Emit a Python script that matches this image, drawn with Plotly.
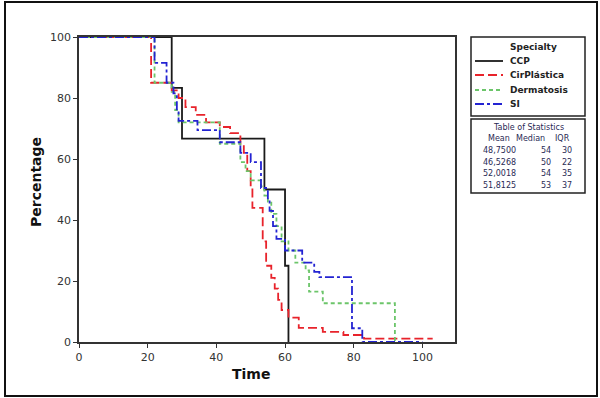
import plotly.graph_objects as go

# ---------------- data ----------------
groups = ["CCP", "CirPlástica", "Dermatosis", "SI"]

ccp_time = [0, 27, 30, 54, 60, 61]
ccp_pct = [100, 83.33, 66.67, 50, 25, 0]

cir_time = [0, 21, 27, 29, 31, 34, 37, 41, 44, 47, 48, 49, 50, 50.5, 53.5, 54.5,
            56, 57, 58, 59, 61, 64, 71, 77, 83, 103]
cir_pct = [100, 85, 82.5, 80, 77, 74.5, 72, 70.5, 68.5, 65, 62, 56, 50, 44, 33, 25,
           21, 17.5, 13.8, 10.5, 8, 4.6, 3.3, 2.3, 1.1, 1.1]

der_time = [0, 22, 27, 28, 29, 41, 47, 48.5, 50, 53, 54, 55, 56, 57.5, 59, 61,
            63, 66, 67, 71, 92]
der_pct = [100, 85, 82, 76, 72, 65, 59, 56, 53, 51, 48, 46, 42, 38, 33, 30,
           26, 23.5, 16.5, 12.7, 0]

si_time = [0, 22, 25.5, 27.5, 28.5, 29, 34.5, 41, 47, 50, 53, 55, 55.5, 56.5,
           57.5, 60, 65, 68.5, 70, 79.5, 82.5, 100]
si_pct = [100, 91.5, 85, 81.5, 76, 72.5, 69.5, 65.5, 62, 59, 50.5, 46.5, 43, 38,
          33.8, 30, 26, 23, 21.3, 4.5, 0, 0]

stat_mean = ["48,7500", "46,5268", "52,0018", "51,8125"]
stat_median = ["54", "50", "54", "53"]
stat_iqr = ["30", "22", "35", "37"]

x_ticks = [0, 20, 40, 60, 80, 100]
y_ticks = [0, 20, 40, 60, 80, 100]

# ---------------- styles ----------------
colors = ["#1a1a1a", "#e8232b", "#6cc56a", "#2323d2"]
dashes = ["solid", "9px,4px", "4px,3px", "9px,3px,3px,3px"]

series = [(ccp_time, ccp_pct), (cir_time, cir_pct), (der_time, der_pct), (si_time, si_pct)]

fig = go.Figure()
for name, (t, p), c, d in zip(groups, series, colors, dashes):
    fig.add_trace(go.Scatter(x=t, y=p, mode="lines", name=name, line_shape="hv",
                             line=dict(color=c, width=1.8, dash=d), showlegend=False))

# plot area in pixels
L, R, T, B = 79, 455, 37, 342
W, H = 600, 398
PW, PH = R - L, B - T


def PX(px):
    return (px - L) / PW


def PY(py):
    return (B - py) / PH


FONT = "DejaVu Sans"
shapes = []
annotations = []

# outer frame
shapes.append(dict(type="rect", xref="paper", yref="paper", x0=PX(5), x1=PX(597),
                   y0=PY(396), y1=PY(2), line=dict(color="#111", width=2)))
# legend box
shapes.append(dict(type="rect", xref="paper", yref="paper", x0=PX(471), x1=PX(585),
                   y0=PY(116), y1=PY(37), line=dict(color="#222", width=1.5)))
# stats box
shapes.append(dict(type="rect", xref="paper", yref="paper", x0=PX(471), x1=PX(585),
                   y0=PY(193), y1=PY(119), line=dict(color="#222", width=1.5)))

annotations.append(dict(text="<b>Specialty</b>", xref="paper", yref="paper", x=PX(508),
                        y=PY(47), xanchor="left", yanchor="middle", showarrow=False,
                        font=dict(family=FONT, size=9, color="#222")))
leg_y = [61, 75, 90, 104]
for name, c, d, yy in zip(groups, colors, dashes, leg_y):
    shapes.append(dict(type="line", xref="paper", yref="paper", x0=PX(475), x1=PX(503),
                       y0=PY(yy), y1=PY(yy), line=dict(color=c, width=1.8, dash=d)))
    annotations.append(dict(text="<b>" + name + "</b>", xref="paper", yref="paper",
                            x=PX(508), y=PY(yy), xanchor="left", yanchor="middle",
                            showarrow=False, font=dict(family=FONT, size=9, color="#222")))

sfont = dict(family=FONT, size=8, color="#2a2a55")
annotations.append(dict(text="Table of Statistics", xref="paper", yref="paper", x=PX(528),
                        y=PY(127), xanchor="center", yanchor="middle", showarrow=False, font=sfont))
for txt, xc in [("Mean", 499), ("Median", 530), ("IQR", 562)]:
    annotations.append(dict(text=txt, xref="paper", yref="paper", x=PX(xc), y=PY(138),
                            xanchor="center", yanchor="middle", showarrow=False, font=sfont))
row_y = [150, 162, 173.5, 185]
for m, md, iq, yy in zip(stat_mean, stat_median, stat_iqr, row_y):
    annotations.append(dict(text=m, xref="paper", yref="paper", x=PX(481), y=PY(yy),
                            xanchor="left", yanchor="middle", showarrow=False, font=sfont))
    annotations.append(dict(text=md, xref="paper", yref="paper", x=PX(553), y=PY(yy),
                            xanchor="right", yanchor="middle", showarrow=False, font=sfont))
    annotations.append(dict(text=iq, xref="paper", yref="paper", x=PX(574), y=PY(yy),
                            xanchor="right", yanchor="middle", showarrow=False, font=sfont))

# axis titles
annotations.append(dict(text="<b>Time</b>", xref="paper", yref="paper", x=PX(251), y=PY(374),
                        xanchor="center", yanchor="middle", showarrow=False,
                        font=dict(family=FONT, size=14, color="#111")))
annotations.append(dict(text="<b>Percentage</b>", xref="paper", yref="paper", x=PX(36), y=PY(182),
                        xanchor="center", yanchor="middle", showarrow=False, textangle=-90,
                        font=dict(family=FONT, size=14, color="#111")))

fig.update_layout(
    width=W, height=H, autosize=False,
    margin=dict(l=L, r=W - R, t=T, b=H - B, pad=0),
    paper_bgcolor="white", plot_bgcolor="white",
    shapes=shapes, annotations=annotations,
    xaxis=dict(range=[0, 109.5], tickvals=x_ticks, ticks="outside", ticklen=4, tickwidth=1,
               tickcolor="#333", showline=True, linecolor="#333", linewidth=1.5, mirror=True,
               showgrid=False, zeroline=False,
               tickfont=dict(family=FONT, size=11, color="#333")),
    yaxis=dict(range=[0, 100], tickvals=y_ticks, ticks="outside", ticklen=4, tickwidth=1,
               tickcolor="#333", showline=True, linecolor="#333", linewidth=1.5, mirror=True,
               showgrid=False, zeroline=False,
               tickfont=dict(family=FONT, size=11, color="#333")),
)

fig.write_html("out.html", config={"displayModeBar": False},
               post_script="document.body.style.margin='0';document.body.style.padding='0';")
